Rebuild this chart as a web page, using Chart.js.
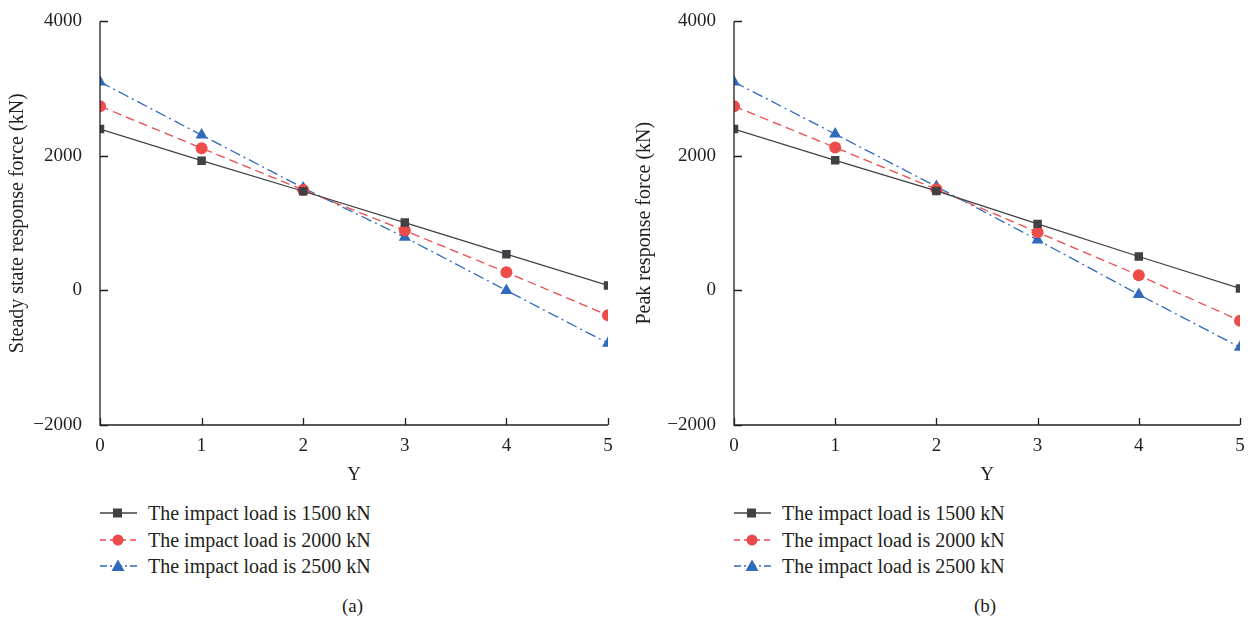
<!DOCTYPE html>
<html lang="en">
<head>
    <meta charset="UTF-8">
    <script src="https://cdn.jsdelivr.net/npm/chart.js"></script>
    <title>Response force</title>
    <style>
        body { margin: 0; background: #fff; width: 1254px; height: 620px; position: relative; font-family: "Liberation Serif", serif; color: #231f20; }
        .panel { position: absolute; top: 0; width: 627px; height: 490px; }
        .legend { position: absolute; top: 500px; font-size: 20px; line-height: 26.5px; }
        .legend div { display: flex; align-items: center; white-space: nowrap; }
        .legend svg { margin-right: 11px; }
        .caption { position: absolute; top: 595px; font-size: 19px; }
    </style>
</head>
<body>

    <div class="panel" style="left:0"><canvas id="chartA"></canvas></div>
    <div class="panel" style="left:627px"><canvas id="chartB"></canvas></div>
    <div class="legend" id="legendA" style="left:100px"></div>
    <div class="legend" id="legendB" style="left:734px"></div>
    <div class="caption" style="left:342px">(a)</div>
    <div class="caption" style="left:974px">(b)</div>

    <script>
        // data
        const yPositions = [0, 1, 2, 3, 4, 5]
        const seriesNames = ["The impact load is 1500 kN", "The impact load is 2000 kN", "The impact load is 2500 kN"]
        const steady1500 = [2400, 1930, 1475, 1010, 540, 75]
        const steady2000 = [2740, 2115, 1495, 890, 270, -370]
        const steady2500 = [3100, 2310, 1525, 790, 0, -785]
        const peak1500 = [2400, 1935, 1480, 990, 505, 30]
        const peak2000 = [2740, 2125, 1505, 865, 225, -450]
        const peak2500 = [3100, 2325, 1545, 750, -60, -845]
        const yTicks = [-2000, 0, 2000, 4000]

        const colors = ["#3f4145", "#ee4b4b", "#2f6abd"]
        const dashes = [[], [9, 5], [11, 4, 2, 4]]
        const markers = ["rect", "circle", "triangle"]
        const fontFamily = '"Liberation Serif", serif'
        const ink = "#231f20"

        // ticks drawn on the inside of the axes
        const innerTicks = {
            id: "innerTicks",
            afterDraw(chart) {
                const c = chart.ctx, a = chart.chartArea
                const xs = chart.scales.x, ys = chart.scales.y
                c.save()
                c.strokeStyle = ink
                c.lineWidth = 1.3
                c.beginPath()
                c.moveTo(a.left, a.top); c.lineTo(a.left, a.bottom); c.lineTo(a.right, a.bottom)
                yTicks.forEach(v => {
                    const p = Math.round(ys.getPixelForValue(v)) + 0.5
                    c.moveTo(a.left, p); c.lineTo(a.left + 8, p)
                })
                yPositions.forEach(v => {
                    const p = Math.round(xs.getPixelForValue(v)) + 0.5
                    c.moveTo(p, a.bottom); c.lineTo(p, a.bottom - 7)
                })
                c.stroke()
                c.restore()
            }
        }

        function makeChart(id, yTitle, values, axisWidth, padRight) {
            const datasets = values.map((vals, i) => ({
                label: seriesNames[i],
                data: yPositions.map((x, k) => ({ x: x, y: vals[k] })),
                borderColor: colors[i],
                backgroundColor: colors[i],
                borderWidth: 1.3,
                borderDash: dashes[i],
                pointStyle: markers[i],
                pointRadius: i == 2 ? 7 : 6,
                pointHoverRadius: i == 2 ? 7 : 6,
                pointBorderWidth: 0,
                tension: 0,
                clip: 0
            }))
            return new Chart(document.getElementById(id), {
                type: "line",
                data: { datasets: datasets },
                options: {
                    responsive: true,
                    maintainAspectRatio: false,
                    animation: false,
                    layout: { padding: { top: 19, right: padRight, left: 0, bottom: 0 } },
                    plugins: { legend: { display: false }, tooltip: { enabled: false } },
                    scales: {
                        x: {
                            type: "linear", min: 0, max: 5,
                            border: { display: false },
                            grid: { display: false },
                            ticks: { stepSize: 1, color: ink, padding: 2, font: { family: fontFamily, size: 19 } },
                            title: { display: true, text: "Y", color: ink, padding: { top: 0, bottom: 4 }, font: { family: fontFamily, size: 19 } },
                            afterFit(scale) { scale.height = 65 }
                        },
                        y: {
                            min: -2000, max: 4000,
                            border: { display: false },
                            grid: { display: false },
                            afterBuildTicks(scale) { scale.ticks = yTicks.map(v => ({ value: v })) },
                            ticks: {
                                color: ink, padding: 10,
                                font: { family: fontFamily, size: 19 },
                                callback: v => v < 0 ? "\u2212" + Math.abs(v) : String(v)
                            },
                            title: { display: true, text: yTitle, color: ink, padding: { top: 6 }, font: { family: fontFamily, size: 20 } },
                            afterFit(scale) { scale.width = axisWidth }
                        }
                    }
                },
                plugins: [innerTicks]
            })
        }

        makeChart("chartA", "Steady state response force (kN)", [steady1500, steady2000, steady2500], 100, 19)
        makeChart("chartB", "Peak response force (kN)", [peak1500, peak2000, peak2500], 107, 14)

        // legend: short line with a marker, then the label
        function sample(i) {
            const dash = dashes[i].length ? ' stroke-dasharray="' + (i == 1 ? "6 4" : "7 3 2 3") + '"' : ""
            let mark = ""
            if (i == 0) mark = '<rect x="13" y="4.5" width="9" height="9" fill="' + colors[0] + '"/>'
            if (i == 1) mark = '<circle cx="18" cy="9" r="5.5" fill="' + colors[1] + '"/>'
            if (i == 2) mark = '<polygon points="18,2.5 24.5,14 11.5,14" fill="' + colors[2] + '"/>'
            return '<svg width="37" height="18"><line x1="0" y1="9" x2="37" y2="9" stroke="' + colors[i] + '" stroke-width="1.3"' + dash + '/>' + mark + '</svg>'
        }
        ["legendA", "legendB"].forEach(id => {
            document.getElementById(id).innerHTML = seriesNames.map((n, i) => '<div>' + sample(i) + '<span>' + n + '</span></div>').join("")
        })
    </script>
</body>
</html>
